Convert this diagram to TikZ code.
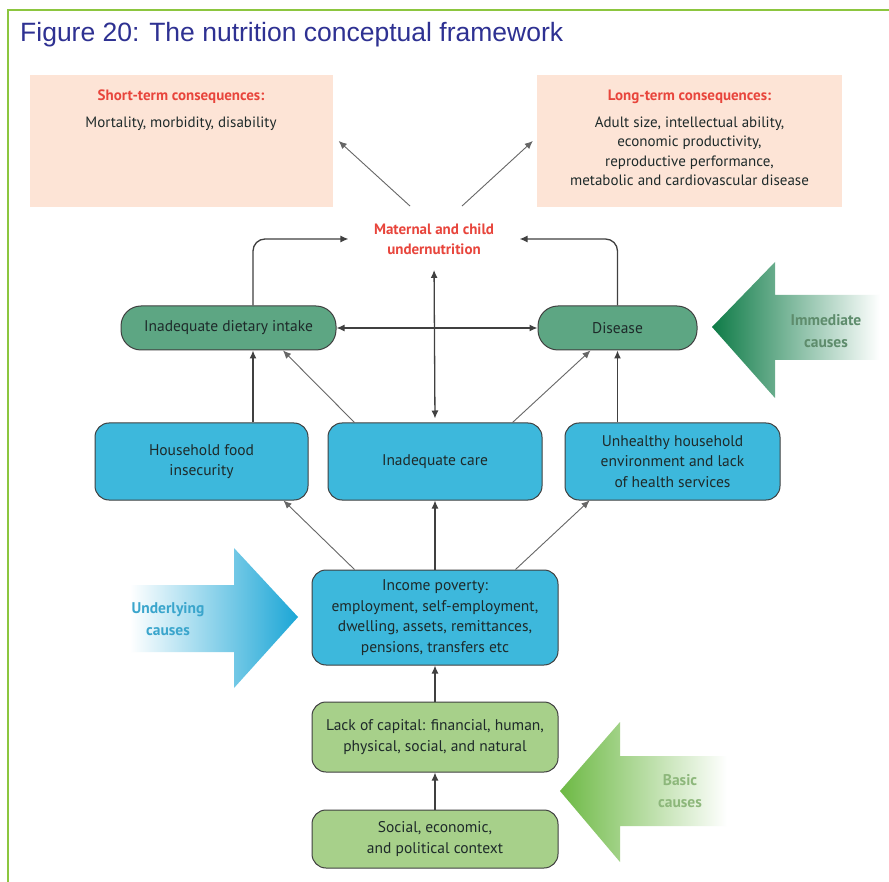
\documentclass[tikz,border=0pt]{standalone}
\usepackage{fontspec}
\setsansfont{PT Sans}
\newfontfamily\titlefont{Liberation Sans}
\usepackage{xcolor}
\usetikzlibrary{arrows.meta,positioning,calc}
\definecolor{framegreen}{HTML}{8CC63F}
\definecolor{titleblue}{HTML}{2E3192}
\definecolor{consfill}{HTML}{FDE4D6}
\definecolor{redtxt}{HTML}{E8453C}
\definecolor{immfill}{HTML}{5DA683}
\definecolor{undfill}{HTML}{3DB8DC}
\definecolor{basfill}{HTML}{A7D08A}
\definecolor{boxtext}{HTML}{1E2A2A}
\definecolor{immdark}{HTML}{0E7B47}
\definecolor{undarrow}{HTML}{1BA6D6}
\definecolor{basarrow}{HTML}{6DB944}
\definecolor{immtxt}{HTML}{5E8C6C}
\definecolor{undtxt}{HTML}{3AA5CC}
\definecolor{bastxt}{HTML}{8DB77B}
\tikzset{
  box/.style={draw=black!75, line width=1pt, rounded corners=14pt, align=center, inner sep=4pt,
    font=\sffamily\fontsize{15.5}{20.5}\selectfont, text=boxtext},
  imm/.style={box, fill=immfill, minimum height=44pt, rounded corners=20pt},
  und/.style={box, fill=undfill, minimum width=214pt, minimum height=77pt},
  bas/.style={box, fill=basfill, minimum width=246pt},
  cons/.style={fill=consfill, minimum width=303pt, minimum height=132pt},
  constxt/.style={align=center, anchor=north, inner sep=0pt, text=boxtext,
    font=\sffamily\fontsize{15}{19.5}\selectfont},
  mattxt/.style={align=center, text=redtxt, font=\sffamily\bfseries\fontsize{15}{20}\selectfont},
  causetxt/.style={align=center, font=\sffamily\bfseries\fontsize{15.5}{22}\selectfont},
  arrow/.style={-{Latex[length=8pt,width=7pt]}, line width=1.3pt, draw=black!75},
  slim/.style={arrow, line width=0.9pt, draw=black!60}
}

\begin{document}
\begin{tikzpicture}[x=1pt, y=-1pt]
    \useasboundingbox (0,0) rectangle (889,882);
    \fill[white] (0,0) rectangle (889,882);
    % frame and title
    \draw[framegreen, line width=2.8pt] (889,10) -- (8,10) -- (8,882);
    \node[anchor=base west, inner sep=0pt, text=titleblue, font=\titlefont\fontsize{26.5}{30}\selectfont] (title) at (20,42) {Figure 20: The nutrition conceptual framework};

    % consequences
    \node[cons] (shortbox) at (181,141) {};
    \node[cons, minimum width=305pt] (longbox) at (689.5,141) {};
    \node[constxt] (shorttxt) at (181,90) {\textcolor{redtxt}{\bfseries Short-term consequences:}\\[7pt]Mortality, morbidity, disability};
    \node[constxt] (longtxt) at (689.5,90) {\textcolor{redtxt}{\bfseries Long-term consequences:}\\[7pt]Adult size, intellectual ability,\\economic productivity,\\reproductive performance,\\metabolic and cardiovascular disease};
    \node[mattxt] (mat) at (434,239) {Maternal and child\\undernutrition};

    % immediate causes
    \node[imm, minimum width=215pt] (diet) at (228.5,328) {Inadequate dietary intake};
    \node[imm, minimum width=159pt] (disease) at (617.5,328) {Disease};

    % underlying causes
    \node[und, minimum width=213pt] (food) at (201.5,461.5) {Household food\\insecurity};
    \node[und] (care) at (435,461.5) {Inadequate care};
    \node[und, minimum width=215pt] (unhealthy) at (672.5,461.5) {Unhealthy household\\environment and lack\\of health services};
    \node[und, minimum width=246pt, minimum height=95pt] (income) at (435,617.5) {Income poverty:\\employment, self-employment,\\dwelling, assets, remittances,\\pensions, transfers etc};

    % basic causes
    \node[bas, minimum height=70pt] (capital) at (435,737) {Lack of capital: financial, human,\\physical, social, and natural};
    \node[bas, minimum height=58pt] (social) at (435,839) {Social, economic,\\and political context};

    % side arrows
    \shade[left color=immdark, middle color=immdark!65, right color=white] (712,327) -- (775,262) -- (775,295) -- (880,295)
      -- (880,360) -- (775,360) -- (775,398) -- cycle;
    \shade[left color=white, middle color=undarrow!60, right color=undarrow] (130,585) -- (234,585) -- (234,548) -- (298,617)
      -- (234,688) -- (234,652) -- (130,652) -- cycle;
    \shade[left color=basarrow, middle color=basarrow!55, right color=white] (560,791) -- (620,722) -- (620,756) -- (727,756)
      -- (727,826) -- (620,826) -- (620,862) -- cycle;
    \node[causetxt, text=immtxt] (immlbl) at (826,331) {Immediate\\causes};
    \node[causetxt, text=undtxt] (undlbl) at (168,619) {Underlying\\causes};
    \node[causetxt, text=bastxt] (baslbl) at (680,791) {Basic\\causes};

    % arrows
    \draw[slim] ([shift={(-24,-14)}]mat.north) -- ([xshift=6pt]shortbox.east);
    \draw[slim] ([shift={(28,-14)}]mat.north) -- ([xshift=-4pt]longbox.west);
    \draw[arrow, rounded corners=12pt] ([xshift=24.5pt]diet.north) |- ([xshift=-22pt]mat.west);
    \draw[arrow, rounded corners=12pt] (disease.north) |- ([xshift=22pt]mat.east);
    \draw[arrow, {Latex[length=8pt,width=7pt]}-{Latex[length=8pt,width=7pt]}] (diet.east) -- (disease.west);
    \draw[arrow, {Latex[length=8pt,width=7pt]}-{Latex[length=8pt,width=7pt]}, shorten <=12pt, shorten >=4pt] (mat.south) -- (care.north);
    \draw[arrow] ([xshift=51.5pt]food.north) -- ([xshift=51.5pt]food.north |- diet.south);
    \draw[slim] ([xshift=27pt]care.north west) -- ([xshift=54.5pt]diet.south);
    \draw[slim] ([xshift=-30pt]care.north east) -- ([xshift=-27pt]disease.south);
    \draw[arrow] (disease.south |- unhealthy.north) -- (disease.south);
    \draw[slim] ([xshift=43pt]income.north west) -- ([xshift=-25pt]food.south east);
    \draw[arrow] (income.north) -- (care.south);
    \draw[slim] ([xshift=-43pt]income.north east) -- ([xshift=25pt]unhealthy.south west);
    \draw[arrow] (capital.north) -- (income.south);
    \draw[arrow] (social.north) -- (capital.south);
\end{tikzpicture}
\end{document}
